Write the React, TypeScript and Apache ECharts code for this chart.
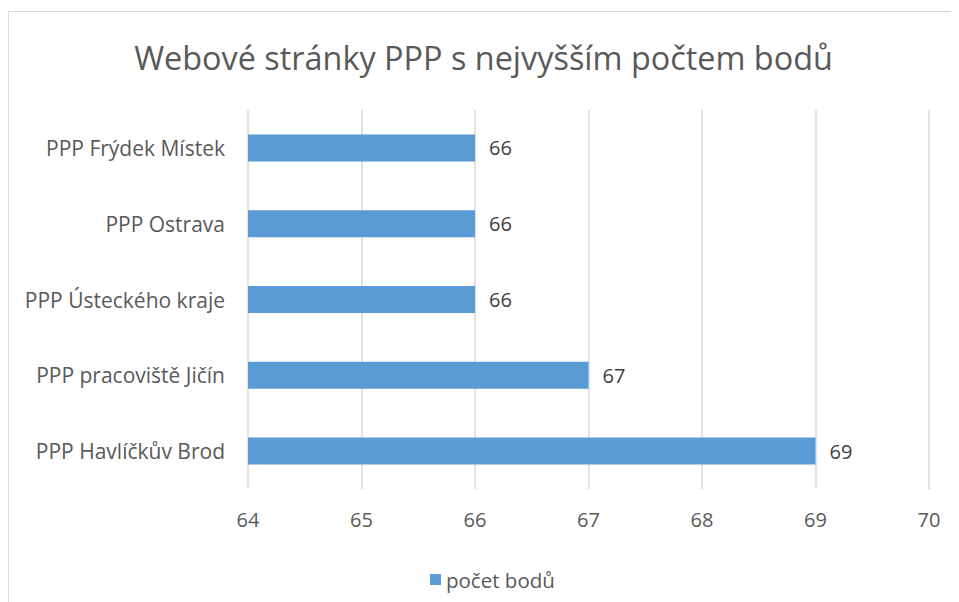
import React, { useEffect, useRef } from "react";
import * as echarts from "echarts";

const categories = [
  "PPP Frýdek Místek",
  "PPP Ostrava",
  "PPP Ústeckého kraje",
  "PPP pracoviště Jičín",
  "PPP Havlíčkův Brod",
];
const values = [66, 66, 66, 67, 69];
const seriesName = "počet bodů";
const titleText = "Webové stránky PPP s nejvyšším počtem bodů";

export default function App() {
  const ref = useRef<HTMLDivElement>(null);
  useEffect(() => {
    if (!ref.current) return;
    const chart = echarts.init(ref.current, null, { renderer: "svg" });
    const font = "'Open Sans', 'Noto Sans', sans-serif";
    chart.setOption({
      animation: false,
      textStyle: { fontFamily: font },
      title: {
        text: titleText,
        left: "center",
        top: 28,
        textStyle: { fontSize: 32.4, fontWeight: "normal", color: "#595959", fontFamily: font },
      },
      graphic: [
        {
          type: "rect",
          shape: { x: 0.5, y: 3.5, width: 1200, height: 1200 },
          style: { fill: "none", stroke: "#d9d9d9", lineWidth: 1 },
          silent: true,
        },
      ],
      legend: {
        data: [seriesName],
        left: 417,
        top: 556,
        itemWidth: 11,
        itemHeight: 11,
        itemGap: 5,
        icon: "rect",
        textStyle: { fontSize: 20.5, color: "#595959", fontFamily: font },
      },
      grid: { left: 240, right: 30, top: 102, bottom: 113 },
      xAxis: {
        type: "value",
        min: 64,
        max: 70,
        interval: 1,
        axisLine: { show: false },
        axisTick: { show: false },
        axisLabel: { fontSize: 20, color: "#595959", margin: 20, fontFamily: font },
        splitLine: { show: true, lineStyle: { color: "#d9d9d9", width: 1.5 } },
      },
      yAxis: {
        type: "category",
        data: categories,
        inverse: true,
        axisLine: { show: false },
        axisTick: { show: false },
        axisLabel: { fontSize: 21, color: "#595959", margin: 23, fontFamily: font },
      },
      series: [
        {
          name: seriesName,
          type: "bar",
          data: values,
          barWidth: 27,
          itemStyle: { color: "#5b9bd5" },
          label: {
            show: true,
            position: "right",
            distance: 14,
            fontSize: 20,
            color: "#404040",
            fontFamily: font,
          },
        },
      ],
    });
    return () => chart.dispose();
  }, []);
  return <div ref={ref} style={{ width: 951, height: 594 }} />;
}
